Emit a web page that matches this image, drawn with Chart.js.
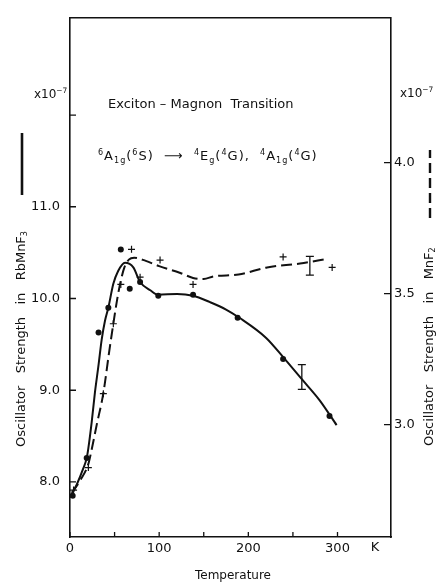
<!DOCTYPE html>
<html>
<head>
<meta charset="utf-8">
<script src="https://cdn.jsdelivr.net/npm/chart.js@4.4.0/dist/chart.umd.min.js"></script>
<style>
  html, body { margin: 0; padding: 0; background: #fff; }
  #wrap { width: 443px; height: 584px; }
</style>
</head>
<body>
<div id="wrap"><canvas id="oscChart" width="443" height="584"></canvas></div>
<script>
// RbMnF3 measured points (left axis, x10^-7)
const rbTemp = [3, 18.7, 32, 43, 57, 67, 78.6, 99, 138, 188, 239, 291];
const rbStrength = [7.85, 8.26, 9.63, 9.90, 10.535, 10.105, 10.18, 10.03, 10.04, 9.79, 9.34, 8.72];

// RbMnF3 hand-drawn curve (solid)
const rbCurveTemp = [0, 7.5, 15, 18.7, 20.6, 24.3, 28, 31.8, 35.5, 39.3, 43, 48.6, 54, 61.7, 71, 78.6, 90, 99, 120, 138, 157, 175, 190, 220, 240, 260, 280, 299];
const rbCurveStrength = [7.83, 7.97, 8.15, 8.26, 8.37, 8.65, 8.98, 9.26, 9.55, 9.76, 9.90, 10.16, 10.30, 10.39, 10.34, 10.18, 10.09, 10.04, 10.05, 10.03, 9.96, 9.88, 9.79, 9.57, 9.35, 9.12, 8.89, 8.62];

// MnF2 measured points (right axis, x10^-7)
const mnTemp = [4, 20.6, 37.4, 48.6, 57, 69, 78.6, 101, 138, 239, 294];
const mnStrength = [2.75, 2.836, 3.118, 3.385, 3.535, 3.669, 3.563, 3.628, 3.535, 3.64, 3.60];

// MnF2 hand-drawn curve (dashed)
const mnCurveTemp = [2, 12, 20.6, 24, 30, 37.4, 44, 48.6, 53, 57, 61, 66, 72, 85, 100, 123, 138, 150, 161, 189, 221, 258, 288];
const mnCurveStrength = [2.74, 2.79, 2.85, 2.90, 3.0, 3.12, 3.28, 3.385, 3.48, 3.55, 3.60, 3.63, 3.637, 3.625, 3.605, 3.58, 3.56, 3.556, 3.566, 3.573, 3.60, 3.615, 3.632];

// error bars
const rbErrTemp = [260, 260];
const rbErrStrength = [9.01, 9.28];
const mnErrTemp = [269, 269];
const mnErrStrength = [3.571, 3.642];

// ticks
const tempTicks = [0, 50, 100, 150, 200, 250, 300];
const tempLabels = [0, 100, 200, 300];
const rbTicks = [8, 9, 10, 11, 12];
const rbLabels = [8, 9, 10, 11];
const mnTicks = [3.0, 3.5, 4.0];

const FONT = '"DejaVu Sans", sans-serif';
const INK = '#111';

function toPts(xs, ys) {
    return xs.map((x, i) => ({ x: x, y: ys[i] }));
}

// text with superscripts / subscripts, drawn piece by piece
function drawRich(ctx, parts, x, y, size) {
    parts.forEach(p => {
        let fs = size, dy = 0;
        if (p[1] === 'sup') { fs = size * 0.62; dy = -size * 0.42; }
        if (p[1] === 'sub') { fs = size * 0.62; dy = size * 0.25; }
        ctx.font = fs + 'px ' + FONT;
        ctx.fillText(p[0], x, y + dy);
        x += ctx.measureText(p[0]).width;
    });
    return x;
}

const framePlugin = {
    id: 'frame',
    afterDraw(chart) {
        const ctx = chart.ctx;
        const a = chart.chartArea;
        const sx = chart.scales.x, sy = chart.scales.y, sy2 = chart.scales.y2;
        ctx.save();
        ctx.strokeStyle = INK;
        ctx.fillStyle = INK;

        // top edge of the box
        ctx.lineWidth = 1.6;
        ctx.beginPath();
        ctx.moveTo(a.left, a.top);
        ctx.lineTo(a.right, a.top);
        ctx.stroke();

        // inward tick marks
        ctx.lineWidth = 1.3;
        ctx.beginPath();
        tempTicks.forEach(v => {
            const px = sx.getPixelForValue(v);
            ctx.moveTo(px, a.bottom);
            ctx.lineTo(px, a.bottom - 5);
        });
        rbTicks.forEach(v => {
            const py = sy.getPixelForValue(v);
            ctx.moveTo(a.left, py);
            ctx.lineTo(a.left + 6, py);
        });
        mnTicks.forEach(v => {
            const py = sy2.getPixelForValue(v);
            ctx.moveTo(a.right, py);
            ctx.lineTo(a.right - 7, py);
        });
        ctx.stroke();

        // scale factors
        ctx.textAlign = 'left';
        ctx.textBaseline = 'alphabetic';
        drawRich(ctx, [['x10', 'n'], ['\u22127', 'sup']], 34, 98, 12);
        drawRich(ctx, [['x10', 'n'], ['\u22127', 'sup']], 400, 97, 12);

        // K after the temperature labels
        ctx.font = '13px ' + FONT;
        ctx.textAlign = 'center';
        ctx.textBaseline = 'top';
        ctx.fillText('K', 375, 541);

        // x title
        ctx.font = '12px ' + FONT;
        ctx.textBaseline = 'middle';
        ctx.fillText('Temperature', 233, 576);

        // inner annotation
        ctx.textAlign = 'left';
        ctx.textBaseline = 'alphabetic';
        ctx.font = '13px ' + FONT;
        ctx.fillText('Exciton \u2013 Magnon  Transition', 108, 108);
        ctx.save();
        ctx.letterSpacing = '1px';
        drawRich(ctx, [
            ['6', 'sup'], ['A', 'n'], ['1g', 'sub'], ['(', 'n'], ['6', 'sup'], ['S)  ', 'n'],
            ['\u27F6', 'n'], ['  ', 'n'],
            ['4', 'sup'], ['E', 'n'], ['g', 'sub'], ['(', 'n'], ['4', 'sup'], ['G),  ', 'n'],
            ['4', 'sup'], ['A', 'n'], ['1g', 'sub'], ['(', 'n'], ['4', 'sup'], ['G)', 'n']
        ], 98, 160, 13);
        ctx.restore();

        // left axis title, bottom to top, with solid line key
        ctx.save();
        ctx.translate(22, 447);
        ctx.rotate(-Math.PI / 2);
        ctx.textBaseline = 'middle';
        drawRich(ctx, [['Oscillator   Strength   in   RbMnF', 'n'], ['3', 'sub']], 0, 0, 13);
        ctx.lineWidth = 2.6;
        ctx.beginPath();
        ctx.moveTo(252, 0);
        ctx.lineTo(314, 0);
        ctx.stroke();
        ctx.restore();

        // right axis title, bottom to top, with dashed line key
        ctx.save();
        ctx.translate(430, 446);
        ctx.rotate(-Math.PI / 2);
        ctx.textBaseline = 'middle';
        drawRich(ctx, [['Oscillator   Strength   in   MnF', 'n'], ['2', 'sub']], 0, 0, 13);
        ctx.lineWidth = 2.4;
        ctx.setLineDash([10, 5]);
        ctx.beginPath();
        ctx.moveTo(228, 0);
        ctx.lineTo(296, 0);
        ctx.stroke();
        ctx.restore();

        ctx.restore();
    }
};

const ctx = document.getElementById('oscChart').getContext('2d');

const oscChart = new Chart(ctx, {
    type: 'scatter',
    data: {
        datasets: [
            {
                label: 'RbMnF3 curve',
                data: toPts(rbCurveTemp, rbCurveStrength),
                yAxisID: 'y',
                showLine: true,
                borderColor: INK,
                borderWidth: 2,
                pointRadius: 0,
                cubicInterpolationMode: 'monotone'
            },
            {
                label: 'MnF2 curve',
                data: toPts(mnCurveTemp, mnCurveStrength),
                yAxisID: 'y2',
                showLine: true,
                borderColor: INK,
                borderWidth: 2,
                borderDash: [11, 5],
                pointRadius: 0,
                cubicInterpolationMode: 'monotone'
            },
            {
                label: 'RbMnF3',
                data: toPts(rbTemp, rbStrength),
                yAxisID: 'y',
                pointStyle: 'circle',
                pointRadius: 3,
                backgroundColor: INK,
                borderColor: INK,
                borderWidth: 0
            },
            {
                label: 'MnF2',
                data: toPts(mnTemp, mnStrength),
                yAxisID: 'y2',
                pointStyle: 'cross',
                pointRadius: 3.5,
                borderColor: INK,
                borderWidth: 1.2
            },
            {
                label: 'RbMnF3 error',
                data: toPts(rbErrTemp, rbErrStrength),
                yAxisID: 'y',
                showLine: true,
                borderColor: INK,
                borderWidth: 1.3,
                pointStyle: 'line',
                pointRadius: 4,
                pointBorderWidth: 1.3
            },
            {
                label: 'MnF2 error',
                data: toPts(mnErrTemp, mnErrStrength),
                yAxisID: 'y2',
                showLine: true,
                borderColor: INK,
                borderWidth: 1.3,
                pointStyle: 'line',
                pointRadius: 4,
                pointBorderWidth: 1.3
            }
        ]
    },
    options: {
        responsive: false,
        animation: false,
        events: [],
        layout: { padding: { top: 10, left: 0, right: 0, bottom: 0 } },
        plugins: {
            legend: { display: false },
            tooltip: { enabled: false }
        },
        scales: {
            x: {
                type: 'linear',
                min: 0,
                max: 360,
                afterBuildTicks: s => { s.ticks = tempTicks.map(v => ({ value: v })); },
                afterFit: s => { s.height = 47; },
                grid: { display: false, drawTicks: false },
                border: { display: true, color: INK, width: 1.6 },
                ticks: {
                    autoSkip: false,
                    maxRotation: 0,
                    padding: 4,
                    color: INK,
                    font: { family: FONT, size: 13 },
                    callback: v => tempLabels.includes(v) ? String(v) : ''
                }
            },
            y: {
                position: 'left',
                min: 7.40,
                max: 13.06,
                afterBuildTicks: s => { s.ticks = rbTicks.map(v => ({ value: v })); },
                afterFit: s => { s.width = 70; },
                grid: { display: false, drawTicks: false },
                border: { display: true, color: INK, width: 1.6 },
                ticks: {
                    padding: 10,
                    color: INK,
                    font: { family: FONT, size: 13 },
                    callback: v => rbLabels.includes(v) ? v.toFixed(1) : ''
                }
            },
            y2: {
                position: 'right',
                min: 2.571,
                max: 4.553,
                afterBuildTicks: s => { s.ticks = mnTicks.map(v => ({ value: v })); },
                afterFit: s => { s.width = 52; },
                grid: { display: false, drawTicks: false },
                border: { display: true, color: INK, width: 1.6 },
                ticks: {
                    padding: 3,
                    color: INK,
                    font: { family: FONT, size: 13 },
                    callback: v => v.toFixed(1)
                }
            }
        }
    },
    plugins: [framePlugin]
});
</script>
</body>
</html>
